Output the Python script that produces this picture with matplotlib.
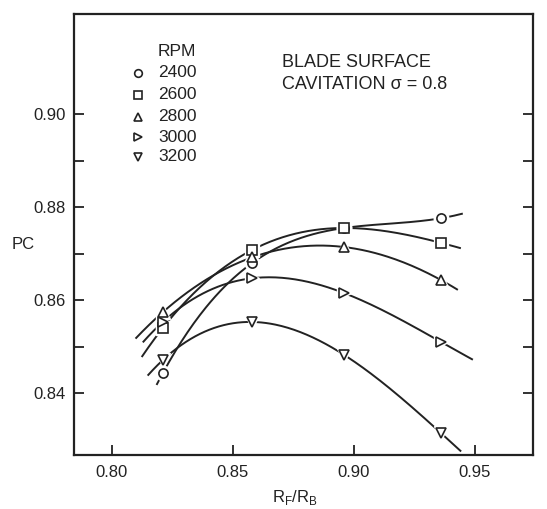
import numpy as np
import matplotlib.pyplot as plt
from matplotlib.ticker import FixedLocator

plt.rcParams['font.family'] = ['Liberation Sans', 'DejaVu Sans']
plt.rcParams['mathtext.fontset'] = 'custom'
plt.rcParams['mathtext.rm'] = 'Liberation Sans'

# Propulsive coefficient vs fan/blade radius ratio, one series per shaft speed
rf_rb = [0.821, 0.858, 0.896, 0.936]
rpm = ['2400', '2600', '2800', '3000', '3200']
pc_2400 = [0.8443, 0.8680, 0.8755, 0.8776]
pc_2600 = [0.8540, 0.8708, 0.8755, 0.8723]
pc_2800 = [0.8574, 0.8692, 0.8714, 0.8643]
pc_3000 = [0.8553, 0.8647, 0.8615, 0.8510]
pc_3200 = [0.8471, 0.8553, 0.8482, 0.8314]
# extent of each faired curve (start, end of R_F/R_B)
curve_span = [(0.8186, 0.9446), (0.8125, 0.9438), (0.8100, 0.9426),
              (0.8130, 0.9488), (0.8150, 0.9440)]

series = [pc_2400, pc_2600, pc_2800, pc_3000, pc_3200]
markers = ['o', 's', '^', '>', 'v']
ink = '#222222'

fig = plt.figure(figsize=(5.47, 5.09), dpi=100)
ax = fig.add_axes([0.1353, 0.1061, 0.8391, 0.8664])

for pc, mk, (x0, x1) in zip(series, markers, curve_span):
    # smooth curve through the test points
    coef = np.polyfit(rf_rb, pc, 3)
    xs = np.linspace(x0, x1, 200)
    ax.plot(xs, np.polyval(coef, xs), color=ink, lw=1.4, zorder=2)
    # white halo leaves a small gap in the line round each symbol
    ax.plot(rf_rb, pc, ls='none', marker=mk, ms=10.5, mfc='white', mec='white',
            zorder=3)
    ax.plot(rf_rb, pc, ls='none', marker=mk, ms=6.6, mfc='white', mec=ink,
            mew=1.2, zorder=4)

ax.set_xlim(0.7843, 0.974)
ax.set_ylim(0.8267, 0.9215)

ax.xaxis.set_major_locator(FixedLocator([0.80, 0.85, 0.90, 0.95]))
ax.xaxis.set_major_formatter(plt.FuncFormatter(lambda v, p: f'{v:.2f}'))
ax.yaxis.set_major_locator(FixedLocator([0.84, 0.86, 0.88, 0.90]))
ax.yaxis.set_minor_locator(FixedLocator([0.85, 0.87, 0.89]))
ax.yaxis.set_major_formatter(plt.FuncFormatter(lambda v, p: f'{v:.2f}'))

ax.tick_params(axis='both', which='both', direction='in', color=ink,
               labelcolor=ink, labelsize=12, width=1.3, length=7)
ax.tick_params(axis='y', which='both', right=True, pad=6)
ax.tick_params(axis='x', pad=7)

for s in ax.spines.values():
    s.set_linewidth(1.6)
    s.set_color(ink)

ax.set_xlabel(r'R$_\mathrm{F}$/R$_\mathrm{B}$', fontsize=12, color=ink)
ax.xaxis.set_label_coords(0.4815, -0.075)
ax.set_ylabel('PC', fontsize=12, color=ink, rotation=0, ha='center',
              va='center')
ax.yaxis.set_label_coords(-0.111, 0.478)

# symbol key
ax.text(0.183, 0.915, 'RPM', transform=ax.transAxes, fontsize=12.5,
        color=ink, va='center', ha='left')
key_y = [0.867, 0.817, 0.767, 0.721, 0.676]
for lab, mk, ky in zip(rpm, markers, key_y):
    ax.plot([0.139], [ky], transform=ax.transAxes, ls='none', marker=mk,
            ms=5.5, mfc='white', mec=ink, mew=1.2)
    ax.text(0.183, ky, lab, transform=ax.transAxes, fontsize=12.5,
            color=ink, va='center', ha='left')

ax.text(0.453, 0.889, 'BLADE SURFACE', transform=ax.transAxes,
        fontsize=13, color=ink, va='center', ha='left')
ax.text(0.453, 0.841, 'CAVITATION σ = 0.8', transform=ax.transAxes,
        fontsize=13, color=ink, va='center', ha='left')

fig.savefig('out.png', dpi=100)
